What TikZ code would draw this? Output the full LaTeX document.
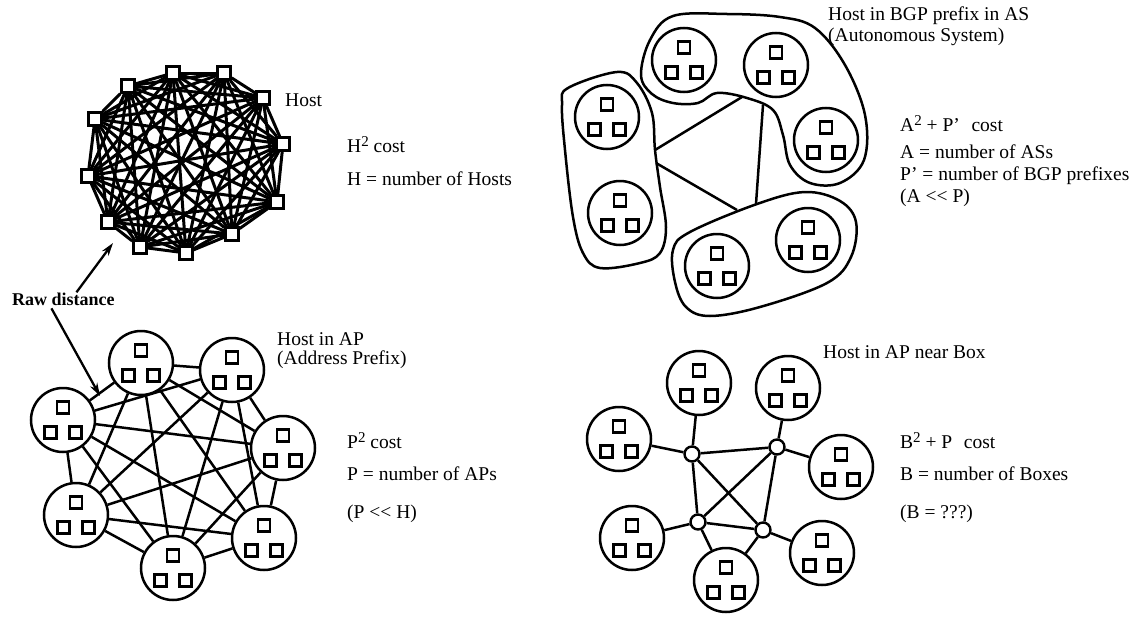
\documentclass[tikz,border=0pt]{standalone}
\usepackage{fontspec}
\setmainfont{Liberation Serif}
\usetikzlibrary{arrows.meta,backgrounds}
\newcommand\sq[1]{\raisebox{6pt}{\fontsize{15}{15}\selectfont #1}}
\begin{document}
\begin{tikzpicture}[x=1pt,y=-1pt,
  lbl/.style={anchor=base west,inner sep=0pt,font=\fontsize{19.5}{21}\selectfont},
  hostsq/.style={draw,fill=white,line width=2.4pt,minimum size=13pt,inner sep=0pt},
  hmesh/.style={line width=3pt},
  edge/.style={line width=2.5pt},
  clus/.style={circle,draw,fill=white,line width=2.5pt,minimum size=64pt,inner sep=0pt,
    path picture={\foreach \dx/\dy in {0/-12.5,-12.5/12.5,12.5/12.5}
      \draw[line width=2.5pt] ([shift={(\dx-6.2,\dy-6.2)}]path picture bounding box.center) rectangle ++(12.4,12.4);}},
  boxn/.style={circle,draw,fill=white,line width=2.4pt,minimum size=15pt,inner sep=0pt},
  blob/.style={line width=2.5pt},
  arr/.style={line width=2.3pt,-{Stealth[length=13pt,width=8pt]}}
]
\useasboundingbox (0,0) rectangle (1141,621);

% ---------- Full mesh of hosts ----------
\foreach \n/\x/\y in {1/173/73,2/224/73,3/263/98,4/283/144,5/277/202,6/232/234,
  7/186/253,8/140/247,9/108/222,10/88/176,11/95/119,12/128/86}
  \node[hostsq] (h\n) at (\x,\y) {};
\begin{scope}[on background layer]
\foreach \i in {1,...,12}{\foreach \j in {1,...,12}{\ifnum\i<\j\relax \draw[hmesh] (h\i) -- (h\j);\fi}}
\end{scope}
\node[lbl] (lhost) at (285,106) {Host};
\node[lbl] (lh1) at (347,152) {H\sq{2} cost};
\node[lbl] (lh2) at (347,185) {H = number of Hosts};

% ---------- Raw distance ----------
\node[lbl,font=\fontsize{18}{20}\selectfont\bfseries] (raw) at (12,305) {Raw distance};
\coordinate (t1) at (113,243);
\coordinate (t2) at (100,396);
\draw[arr] ([xshift=13pt]raw.north) -- (t1);
\draw[arr] ([xshift=-12pt,yshift=-3pt]raw.south) -- (t2);

% ---------- AP mesh ----------
\foreach \n/\x/\y in {1/141/363,2/232/370,3/283/448,4/264/538,5/173/568,6/76/515,7/63/420}
  \node[clus] (p\n) at (\x,\y) {};
\foreach \i in {1,...,7}{\foreach \j in {1,...,7}{\ifnum\i<\j\relax \draw[edge] (p\i) -- (p\j);\fi}}
\node[lbl] (lap1) at (277,345) {Host in AP};
\node[lbl] (lap2) at (277,364) {(Address Prefix)};
\node[lbl] (lp1) at (347,448) {P\sq{2} cost};
\node[lbl] (lp2) at (347,480) {P = number of APs};
\node[lbl] (lp3) at (347,518) {(P <\kern0pt< H)};

% ---------- AS diagram ----------
\draw[blob] plot[smooth cycle,tension=0.6] coordinates {(641,75) (650,40) (673,16) (727,14) (780,17) (815,28) (845,65) (865,115) (864,160) (840,183) (810,183) (790,165) (783,135) (773,110) (747,98) (717,93) (698,103) (673,103) (652,94)};
\draw[blob] plot[smooth cycle,tension=0.6] coordinates {(562,105) (568,88) (617,72) (637,83) (652,113) (655,150) (660,187) (666,227) (660,253) (640,263) (600,268) (583,253) (573,217) (565,150)};
\draw[blob] plot[smooth cycle,tension=0.6] coordinates {(673,250) (690,232) (757,204) (805,192) (840,201) (856,222) (851,257) (827,283) (760,307) (710,316) (686,307) (675,282)};
\foreach \n/\x/\y in {1/684/60,2/776/65,3/826/140,4/808/240,5/717/266,6/607/117,7/620/213}
  \node[clus] (a\n) at (\x,\y) {};
\coordinate (g1a) at (655,150); \coordinate (g1b) at (742,97);
\coordinate (g2a) at (656,163); \coordinate (g2b) at (737,210);
\coordinate (g3a) at (763,105); \coordinate (g3b) at (756,204);
\draw[edge] (g1a) -- (g1b);
\draw[edge] (g2a) -- (g2b);
\draw[edge] (g3a) -- (g3b);
\node[lbl] (las1) at (828,20) {Host in BGP prefix in AS};
\node[lbl] (las2) at (828,41) {(Autonomous System)};
\node[lbl] (la1) at (900,131) {A\sq{2} + P'\hspace{0.6em}cost};
\node[lbl] (la2) at (900,158) {A = number of ASs};
\node[lbl] (la3) at (900,180) {P' = number of BGP prefixes};
\node[lbl] (la4) at (900,202) {(A <\kern0pt< P)};

% ---------- Box diagram ----------
\foreach \n/\x/\y in {1/699/383,2/788/388,3/619/439,4/841/467,5/632/538,6/726/580,7/822/553}
  \node[clus] (c\n) at (\x,\y) {};
\foreach \n/\x/\y in {1/692/454,2/777/447,3/698/522,4/763/530}
  \node[boxn] (b\n) at (\x,\y) {};
\foreach \u/\v in {b1/c1,b1/c3,b2/c2,b2/c4,b3/c5,b3/c6,b4/c6,b4/c7,b1/b2,b1/b3,b1/b4,b2/b3,b2/b4,b3/b4}
  \draw[edge] (\u) -- (\v);
\node[lbl] (lb0) at (823,358) {Host in AP near Box};
\node[lbl] (lb1) at (900,448) {B\sq{2} + P\hspace{0.6em}cost};
\node[lbl] (lb2) at (900,480) {B = number of Boxes};
\node[lbl] (lb3) at (900,518) {(B = ???)};
\end{tikzpicture}
\end{document}
